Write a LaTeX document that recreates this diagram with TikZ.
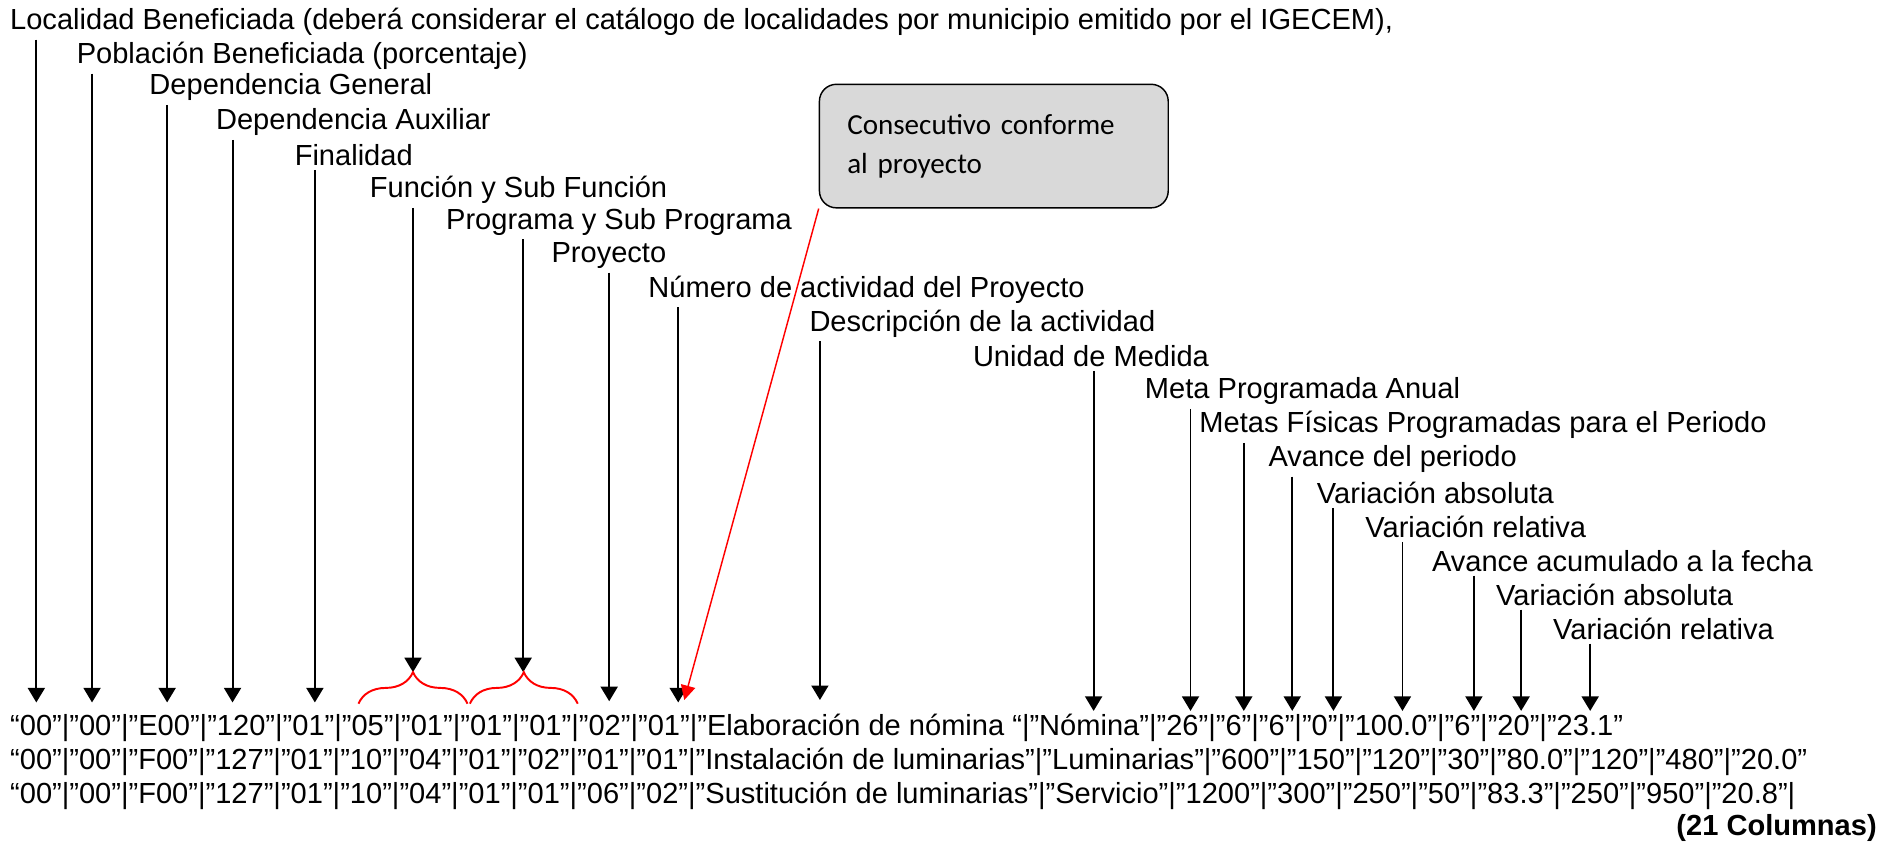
\documentclass[tikz,border=0pt]{standalone}
\usepackage{fontspec}
\setmainfont{Liberation Sans}
\newfontfamily\cajafont{Carlito}
\usepackage{xcolor}
\usepackage{tikz}
\usetikzlibrary{shapes,arrows.meta,positioning,decorations.pathreplacing}

\definecolor{grisCaja}{HTML}{D9D9D9}

\tikzset{
    etiqueta/.style={anchor=west, inner xsep=0pt, inner ysep=1.5pt, font=\fontsize{12}{14}\selectfont},
    fila/.style={anchor=west, inner sep=0pt, font=\fontsize{12}{14}\selectfont},
    flecha/.style={-{Triangle[length=6pt,width=7pt]}, line width=0.8pt},
    flechaRoja/.style={-{Triangle[length=6pt,width=6pt]}, line width=0.6pt, red},
    llave/.style={red, line width=0.8pt, decorate, decoration={brace, amplitude=13pt}},
    caja/.style={anchor=north west, draw, line width=0.6pt, fill=grisCaja, rounded corners=7pt,
        text width=121pt, inner xsep=11.5pt, minimum height=51pt, align=left,
        font=\cajafont\fontsize{12}{16}\selectfont}
}

\begin{document}
\begin{tikzpicture}[x=0.5pt, y=-0.5pt]
    \useasboundingbox (0,0) rectangle (1568,698);

    \node[etiqueta] (loc) at (8,18) {Localidad Beneficiada (deberá considerar el catálogo de localidades por municipio emitido por el IGECEM),};
    \node[etiqueta] (pob) at (63,46) {Población Beneficiada (porcentaje)};
    \node[etiqueta] (depgen) at (123,72) {Dependencia General};
    \node[etiqueta] (depaux) at (178,101) {Dependencia Auxiliar};
    \node[etiqueta] (fin) at (243,128) {Finalidad};
    \node[etiqueta] (fun) at (305,157) {Función y Sub Función};
    \node[etiqueta] (prog) at (368,183) {Programa y Sub Programa};
    \node[etiqueta] (proy) at (455,211) {Proyecto};
    \node[etiqueta] (numact) at (535,239) {Número de actividad del Proyecto};
    \node[etiqueta] (desc) at (668,267) {Descripción de la actividad};
    \node[etiqueta] (unidad) at (803,294) {Unidad de Medida};
    \node[etiqueta] (metaanual) at (945,323) {Meta Programada Anual};
    \node[etiqueta] (metaper) at (990,351) {Metas Físicas Programadas para el Periodo};
    \node[etiqueta] (avper) at (1047,379) {Avance del periodo};
    \node[etiqueta] (varabs) at (1087,407) {Variación absoluta};
    \node[etiqueta] (varrel) at (1127,435) {Variación relativa};
    \node[etiqueta] (avacum) at (1182,463) {Avance acumulado a la fecha};
    \node[etiqueta] (varabsacum) at (1235,491) {Variación absoluta};
    \node[etiqueta] (varrelacum) at (1282,519) {Variación relativa};

    \node[caja] (consec) at (676,69) {Consecutivo conforme\\al proyecto};

    \node[fila] (fila1) at (8,601) {“00”|”00”|”E00”|”120”|”01”|”05”|”01”|”01”|”01”|”02”|”01”|”Elaboración de nómina “|”Nómina”|”26”|”6”|”6”|”0”|”100.0”|”6”|”20”|”23.1”};
    \node[fila] (fila2) at (8,629) {“00”|”00”|”F00”|”127”|”01”|”10”|”04”|”01”|”02”|”01”|”01”|”Instalación de luminarias”|”Luminarias”|”600”|”150”|”120”|”30”|”80.0”|”120”|”480”|”20.0”};
    \node[fila] (fila3) at (8,657) {“00”|”00”|”F00”|”127”|”01”|”10”|”04”|”01”|”01”|”06”|”02”|”Sustitución de luminarias”|”Servicio”|”1200”|”300”|”250”|”50”|”83.3”|”250”|”950”|”20.8”|};
    \node[fila, anchor=east, font=\fontsize{12}{14}\selectfont\bfseries] (columnas) at (1550,684) {(21 Columnas)};

    \coordinate (pLoc) at (30,580);
    \coordinate (pPob) at (76,580);
    \coordinate (pDepgen) at (138,580);
    \coordinate (pDepaux) at (192,580);
    \coordinate (pFin) at (260,580);
    \coordinate (pFun) at (341,555);
    \coordinate (pProg) at (432,555);
    \coordinate (pProy) at (503,579);
    \coordinate (pNumact) at (560,580);
    \coordinate (pDesc) at (677,578);
    \coordinate (pUnidad) at (903,587);
    \coordinate (pMetaanual) at (983,587);
    \coordinate (pMetaper) at (1027,587);
    \coordinate (pAvper) at (1067,587);
    \coordinate (pVarabs) at (1101,587);
    \coordinate (pVarrel) at (1158,587);
    \coordinate (pAvacum) at (1217,587);
    \coordinate (pVarabsacum) at (1256,587);
    \coordinate (pVarrelacum) at (1313,587);
    \coordinate (pConsec) at (565,578);

    \draw[flecha] (loc.south -| pLoc) -- (pLoc);
    \draw[flecha] (pob.south -| pPob) -- (pPob);
    \draw[flecha] (depgen.south -| pDepgen) -- (pDepgen);
    \draw[flecha] (depaux.south -| pDepaux) -- (pDepaux);
    \draw[flecha] (fin.south -| pFin) -- (pFin);
    \draw[flecha] (fun.south -| pFun) -- (pFun);
    \draw[flecha] (prog.south -| pProg) -- (pProg);
    \draw[flecha] (proy.south -| pProy) -- (pProy);
    \draw[flecha] (numact.south -| pNumact) -- (pNumact);
    \draw[flecha] (desc.south -| pDesc) -- (pDesc);
    \draw[flecha] (unidad.south -| pUnidad) -- (pUnidad);
    \draw[flecha] (metaanual.south -| pMetaanual) -- (pMetaanual);
    \draw[flecha] (metaper.south -| pMetaper) -- (pMetaper);
    \draw[flecha] (avper.south -| pAvper) -- (pAvper);
    \draw[flecha] (varabs.south -| pVarabs) -- (pVarabs);
    \draw[flecha] (varrel.south -| pVarrel) -- (pVarrel);
    \draw[flecha] (avacum.south -| pAvacum) -- (pAvacum);
    \draw[flecha] (varabsacum.south -| pVarabsacum) -- (pVarabsacum);
    \draw[flecha] (varrelacum.south -| pVarrelacum) -- (pVarrelacum);

    \draw[
        llave
    ] (296,581) -- (386,581);

    \draw[
        llave
    ] (388,581) -- (477,581);

    \draw[
        flechaRoja
    ] (consec.south west) -- (pConsec);

\end{tikzpicture}
\end{document}
